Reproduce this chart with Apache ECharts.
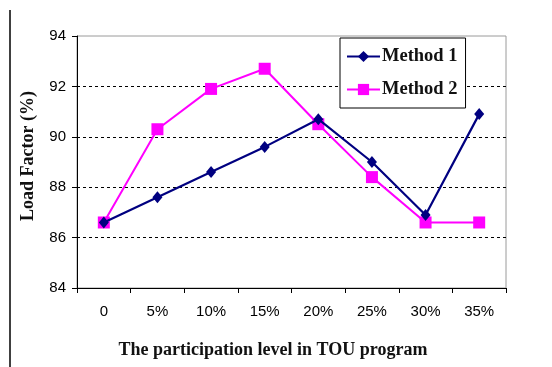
<!DOCTYPE html>
<html>
<head>
<meta charset="utf-8">
<script src="https://cdn.jsdelivr.net/npm/echarts@6/dist/echarts.min.js"></script>
<style>
  html, body { margin: 0; padding: 0; background: #ffffff; }
  #chart { width: 552px; height: 367px; }
</style>
</head>
<body>
<div id="chart"></div>
<script>
// Participation levels in the TOU program
const categories = ['0', '5%', '10%', '15%', '20%', '25%', '30%', '35%'];
// Load factor (%) for each method
const method1 = [86.6, 87.6, 88.6, 89.6, 90.7, 89.0, 86.9, 90.9];
const method2 = [86.6, 90.3, 91.9, 92.7, 90.5, 88.4, 86.6, 86.6];
const yTicks = { min: 84, max: 94, interval: 2 };

const serifFamily = '"Liberation Serif", "Times New Roman", serif';
const sansFamily = '"Liberation Sans", Arial, sans-serif';

const chart = echarts.init(document.getElementById('chart'), null, { renderer: 'canvas' });

chart.setOption({
  animation: false,
  backgroundColor: '#ffffff',
  grid: {
    left: 77, right: 46, top: 36, bottom: 79,
    show: true, borderColor: '#9a9a9a', borderWidth: 1, backgroundColor: 'transparent'
  },
  legend: {
    orient: 'vertical',
    left: 340, top: 38,
    padding: [9, 8, 9, 6],
    itemWidth: 33, itemHeight: 14, itemGap: 14,
    backgroundColor: '#ffffff',
    borderColor: '#000000', borderWidth: 1,
    textStyle: { fontSize: 18.5, padding: [0, 0, 0, -3], fontFamily: serifFamily, fontWeight: 'bold', color: '#111' },
    data: ['Method 1', 'Method 2']
  },
  xAxis: {
    type: 'category',
    data: categories,
    boundaryGap: true,
    axisLine: { lineStyle: { color: '#000', width: 1 } },
    axisTick: { show: true, length: 5, lineStyle: { color: '#000' } },
    axisLabel: { color: '#000', fontSize: 15, fontFamily: sansFamily, margin: 16 },
    splitLine: { show: false }
  },
  yAxis: {
    type: 'value',
    min: yTicks.min, max: yTicks.max, interval: yTicks.interval,
    axisLine: { show: true, lineStyle: { color: '#000', width: 1 } },
    axisTick: { show: true, length: 5, lineStyle: { color: '#000' } },
    axisLabel: { color: '#000', fontSize: 15, fontFamily: sansFamily, margin: 11 },
    splitLine: {
      show: true,
      showMinLine: false, showMaxLine: false,
      lineStyle: { color: '#000', type: [3, 3], width: 1 }
    }
  },
  series: [
    {
      name: 'Method 1',
      type: 'line',
      data: method1,
      symbol: 'diamond',
      symbolSize: [10, 12],
      lineStyle: { color: '#000080', width: 2.2 },
      itemStyle: { color: '#000080' },
      z: 3
    },
    {
      name: 'Method 2',
      type: 'line',
      data: method2,
      symbol: 'rect',
      symbolSize: 12,
      lineStyle: { color: '#ff00ff', width: 2 },
      itemStyle: { color: '#ff00ff' },
      z: 2
    }
  ],
  graphic: [
    {
      type: 'line',
      shape: { x1: 10, y1: 10, x2: 10, y2: 367 },
      style: { stroke: '#000', lineWidth: 1.5 }
    },
    {
      type: 'text',
      x: 273, y: 350,
      style: { text: 'The participation level in TOU program', fontSize: 18, align: 'center', verticalAlign: 'middle', fill: '#111', fontFamily: serifFamily, fontWeight: 'bold' }
    },
    {
      type: 'text',
      x: 28, y: 156,
      rotation: Math.PI / 2,
      style: { text: 'Load Factor (%)', fontSize: 18, align: 'center', verticalAlign: 'middle', fill: '#111', fontFamily: serifFamily, fontWeight: 'bold' }
    }
  ]
});
</script>
</body>
</html>
